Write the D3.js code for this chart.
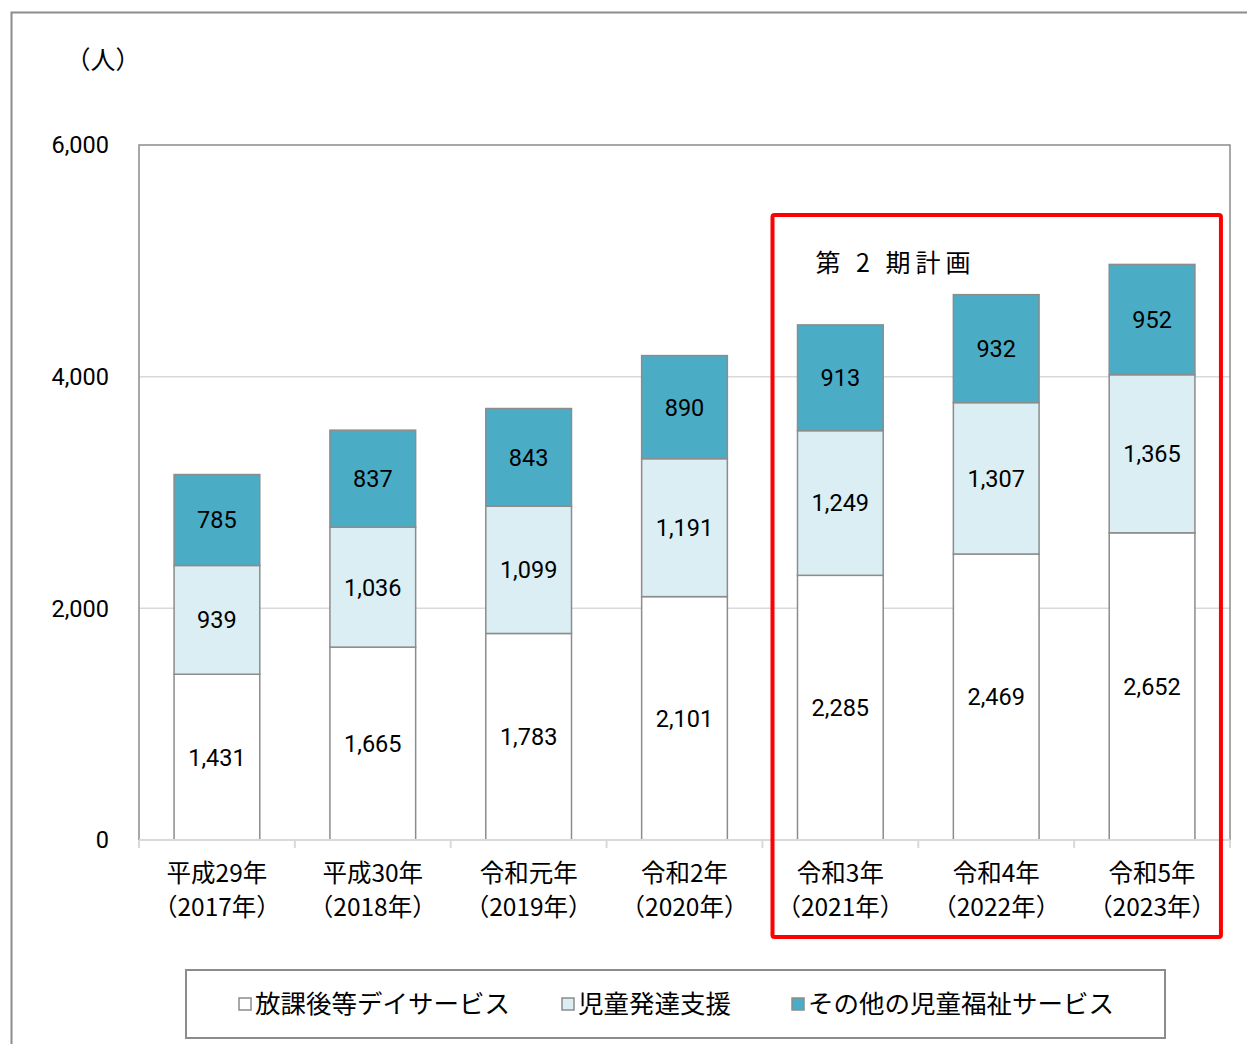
<!DOCTYPE html>
<html>
<head>
<meta charset="utf-8">
<script src="https://cdn.jsdelivr.net/npm/d3@7"></script>
<style>
  body { margin: 0; background: #fff; }
  svg text { font-family: "Noto Sans CJK JP", "Noto Sans", sans-serif; }
</style>
</head>
<body>
<div id="chart"></div>
<script>
// Data
const categories = ["平成29年|（2017年）", "平成30年|（2018年）", "令和元年|（2019年）", "令和2年|（2020年）",
                    "令和3年|（2021年）", "令和4年|（2022年）", "令和5年|（2023年）"];
const seriesNames = ["放課後等デイサービス", "児童発達支援", "その他の児童福祉サービス"];
const afterSchool = [1431, 1665, 1783, 2101, 2285, 2469, 2652];
const childDev = [939, 1036, 1099, 1191, 1249, 1307, 1365];
const otherWelfare = [785, 837, 843, 890, 913, 932, 952];
const yTicks = [0, 2000, 4000, 6000];
const planCategories = ["令和3年|（2021年）", "令和5年|（2023年）"];

const colors = ["#ffffff", "#daeef3", "#4bacc6"];

const w = 1247, h = 1044;
const margin = { top: 145, right: 17, bottom: 204, left: 139 };

const svg = d3.select("#chart").append("svg")
    .attr("width", w)
    .attr("height", h);

// outer frame
svg.append("rect")
    .attr("x", 11.5).attr("y", 12.5)
    .attr("width", w + 20).attr("height", h + 20)
    .attr("fill", "none").attr("stroke", "#8c8c8c").attr("stroke-width", 2);

const x = d3.scaleBand()
    .domain(categories)
    .range([margin.left, w - margin.right])
    .paddingInner(0.45)
    .paddingOuter(0.225);

const y = d3.scaleLinear()
    .domain([0, 6000])
    .range([h - margin.bottom, margin.top]);

// table for stacking
const table = categories.map((c, i) => ({
    cat: c, s0: afterSchool[i], s1: childDev[i], s2: otherWelfare[i]
}));
const stack = d3.stack().keys(["s0", "s1", "s2"])(table);

// gridlines
svg.append("g")
    .selectAll("line")
    .data(yTicks.filter(t => t > 0 && t < 6000))
    .join("line")
    .attr("x1", margin.left).attr("x2", w - margin.right)
    .attr("y1", d => y(d)).attr("y2", d => y(d))
    .attr("stroke", "#d9d9d9").attr("stroke-width", 1.5);

// plot border (left, top, right)
svg.append("path")
    .attr("d", `M${margin.left},${y(0)}V${y(6000)}H${w - margin.right}V${y(0)}`)
    .attr("fill", "none").attr("stroke", "#8c8c8c").attr("stroke-width", 1.5);

// bars
const layers = svg.append("g").selectAll("g")
    .data(stack)
    .join("g")
    .attr("fill", (d, i) => colors[i]);

layers.selectAll("rect")
    .data(d => d)
    .join("rect")
    .attr("x", d => x(d.data.cat))
    .attr("width", x.bandwidth())
    .attr("y", d => y(d[1]))
    .attr("height", d => y(d[0]) - y(d[1]))
    .attr("stroke", "#8c8c8c")
    .attr("stroke-width", 1.5);

// value labels
layers.selectAll("text")
    .data(d => d)
    .join("text")
    .attr("x", d => x(d.data.cat) + x.bandwidth() / 2)
    .attr("y", d => y((d[0] + d[1]) / 2))
    .attr("dy", "0.36em")
    .attr("text-anchor", "middle")
    .attr("fill", "#000")
    .style("font-family", "Roboto, sans-serif")
    .style("font-size", "23.5px")
    .text(d => d3.format(",")(d[1] - d[0]));

// x axis
const xAxis = svg.append("g")
    .attr("transform", `translate(0,${y(0)})`);
xAxis.append("line")
    .attr("x1", margin.left).attr("x2", w - margin.right)
    .attr("stroke", "#d9d9d9").attr("stroke-width", 2);
const step = x.step();
xAxis.selectAll("line.sep")
    .data(d3.range(categories.length + 1))
    .join("line")
    .attr("class", "sep")
    .attr("x1", i => margin.left + i * step)
    .attr("x2", i => margin.left + i * step)
    .attr("y1", 0).attr("y2", 8)
    .attr("stroke", "#d9d9d9").attr("stroke-width", 2);
const catLabels = xAxis.selectAll("text.cat")
    .data(categories)
    .join("text")
    .attr("class", "cat")
    .attr("text-anchor", "middle")
    .attr("fill", "#000")
    .style("font-size", "24.5px");
catLabels.selectAll("tspan")
    .data(d => d.split("|").map(t => ({ t, c: d })))
    .join("tspan")
    .attr("x", d => x(d.c) + x.bandwidth() / 2)
    .attr("y", (d, i) => 42 + i * 34)
    .text(d => d.t);

// y axis labels
svg.append("g")
    .selectAll("text")
    .data(yTicks)
    .join("text")
    .attr("x", 109)
    .attr("y", d => y(d))
    .attr("dy", "0.36em")
    .attr("text-anchor", "end")
    .style("font-family", "Roboto, sans-serif")
    .style("font-size", "23.5px")
    .text(d => d3.format(",")(d));

// unit
svg.append("text")
    .attr("x", 103).attr("y", 60)
    .attr("dy", "0.36em")
    .attr("text-anchor", "middle")
    .style("font-size", "25px")
    .text("（人）");

// plan highlight box
const px0 = x(planCategories[0]) - 25;
const px1 = x(planCategories[1]) + x.bandwidth() + 26;
svg.append("rect")
    .attr("x", px0).attr("y", 215)
    .attr("width", px1 - px0).attr("height", 722)
    .attr("rx", 2)
    .attr("fill", "none").attr("stroke", "#ff0000").attr("stroke-width", 4);
svg.append("text")
    .attr("x", px0 + 43).attr("y", 263)
    .attr("dy", "0.36em")
    .style("font-size", "25px")
    .style("letter-spacing", "5px")
    .text("第 2 期計画");

// legend
const legend = svg.append("g");
legend.append("rect")
    .attr("x", 186).attr("y", 970)
    .attr("width", 979).attr("height", 68)
    .attr("fill", "#fff").attr("stroke", "#8c8c8c").attr("stroke-width", 2);
const legendX = [239, 562, 792];
const li = legend.selectAll("g.item")
    .data(seriesNames)
    .join("g")
    .attr("class", "item")
    .attr("transform", (d, i) => `translate(${legendX[i]},1004)`);
li.append("rect")
    .attr("x", 0).attr("y", -6)
    .attr("width", 12).attr("height", 12)
    .attr("fill", (d, i) => colors[i])
    .attr("stroke", "#8c8c8c").attr("stroke-width", 1.5);
li.append("text")
    .attr("x", 16)
    .attr("dy", "0.36em")
    .style("font-size", "25.5px")
    .text(d => d);
</script>
</body>
</html>
